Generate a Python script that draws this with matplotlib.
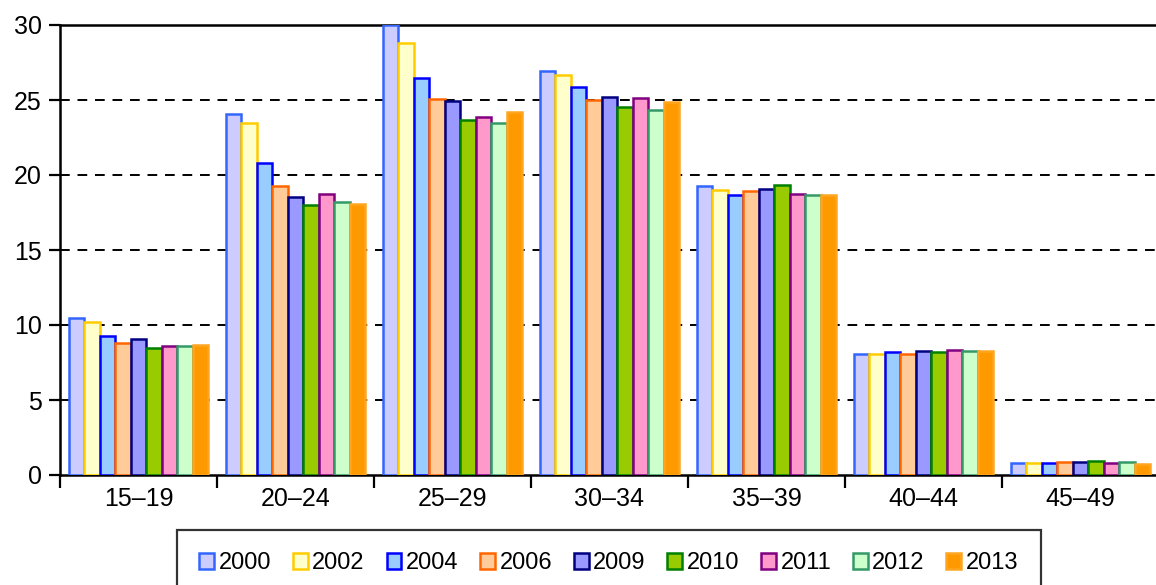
import matplotlib.pyplot as plt
from matplotlib.patches import Patch
import numpy as np

plt.rcParams['font.family'] = ['Liberation Sans', 'DejaVu Sans']

age_groups = ['15–19', '20–24', '25–29', '30–34', '35–39', '40–44', '45–49']
years = ['2000', '2002', '2004', '2006', '2009', '2010', '2011', '2012', '2013']

# values per year, one entry per age group
v2000 = [10.5, 24.1, 30.0, 26.95, 19.3, 8.1, 0.82]
v2002 = [10.2, 23.45, 28.8, 26.7, 19.0, 8.1, 0.82]
v2004 = [9.27, 20.8, 26.5, 25.9, 18.7, 8.2, 0.8]
v2006 = [8.8, 19.27, 25.05, 25.0, 18.95, 8.1, 0.85]
v2009 = [9.07, 18.55, 24.95, 25.2, 19.04, 8.25, 0.85]
v2010 = [8.47, 18.0, 23.7, 24.55, 19.33, 8.2, 0.93]
v2011 = [8.6, 18.73, 23.9, 25.15, 18.73, 8.35, 0.82]
v2012 = [8.6, 18.2, 23.45, 24.33, 18.7, 8.3, 0.9]
v2013 = [8.7, 18.05, 24.2, 24.87, 18.64, 8.3, 0.75]
series = [v2000, v2002, v2004, v2006, v2009, v2010, v2011, v2012, v2013]

faces = ['#CCCCFF', '#FFFFCC', '#99CCFF', '#FFCC99', '#9999FF',
         '#99CC00', '#FF99CC', '#CCFFCC', '#FF9900']
edges = ['#3366FF', '#FFCC00', '#0000FF', '#FF6600', '#000080',
         '#008000', '#800080', '#339966', '#FFA520']

fig = plt.figure(figsize=(11.56, 5.85), dpi=100)
ax = fig.add_axes([60 / 1156, 110 / 585, 1099 / 1156, 450 / 585])

x = np.arange(len(age_groups))
w = 0.89 / len(years)
for i, vals in enumerate(series):
    off = (i - (len(years) - 1) / 2) * w
    ax.bar(x + off, vals, w, facecolor=faces[i], edgecolor=edges[i],
           linewidth=1.8, zorder=3)

ax.set_xlim(-0.5, len(age_groups) - 0.5)
ax.set_ylim(0, 30)
ax.set_yticks(range(0, 31, 5))
ax.tick_params(axis='y', labelsize=18, length=8, width=1.6, direction='out', pad=5)

ax.set_xticks(x)
ax.set_xticklabels(age_groups, fontsize=18)
ax.tick_params(axis='x', which='major', length=0, pad=9)
ax.set_xticks(np.arange(-0.5, len(age_groups), 1), minor=True)
ax.tick_params(axis='x', which='minor', length=9, width=1.6, direction='out')

for yv in range(5, 30, 5):
    ax.axhline(yv, color='black', linestyle=(0, (5, 4)), linewidth=1.4, zorder=1)

for s in ['left', 'bottom', 'top']:
    ax.spines[s].set_linewidth(1.8)
ax.spines['right'].set_visible(False)

handles = [Patch(facecolor=faces[i], edgecolor=edges[i], linewidth=1.8) for i in range(len(years))]
leg = fig.legend(handles, years, loc='upper left', bbox_to_anchor=(177 / 1156, 1 - 530 / 585),
                 ncol=9, fontsize=17, frameon=True, fancybox=False, handlelength=0.62,
                 handleheight=0.62, handletextpad=0.2, columnspacing=0.92,
                 borderpad=0.95, borderaxespad=0)
leg.get_frame().set_edgecolor('black')
leg.get_frame().set_linewidth(1.6)

fig.savefig('out.png', dpi=100)
